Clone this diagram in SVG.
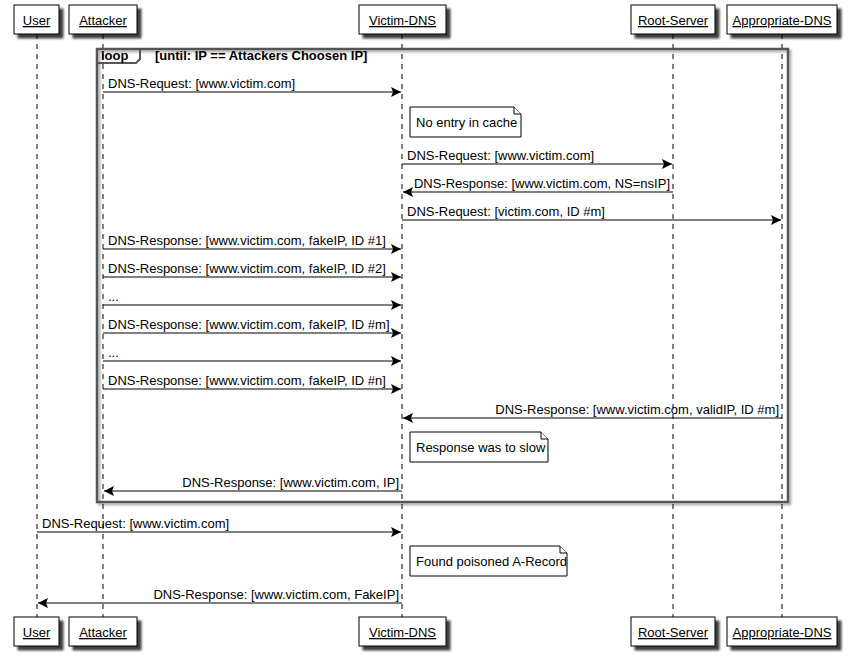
<svg xmlns="http://www.w3.org/2000/svg" width="855" height="658" viewBox="0 0 855 658">
  <style>
    text { font-family: "Liberation Sans", Arial, sans-serif; font-size: 13px; fill: #000; }
    .pname { text-decoration: underline; text-anchor: middle; }
    .bold { font-weight: bold; }
    .end { text-anchor: end; }
    .box { fill: #fff; stroke: #000; stroke-width: 1; filter: url(#shadow); }
    .life { stroke: #000; stroke-width: 1; stroke-dasharray: 5,5; fill: none; }
    .msg { stroke: #000; stroke-width: 1; fill: none; marker-end: url(#arrow); }
    .note { fill: #fff; stroke: #000; stroke-width: 1; }
    .frame { fill: none; stroke: #555; stroke-width: 2.5; filter: url(#fshadow); }
  </style>
  <defs>
    <filter id="shadow" x="-20%" y="-20%" width="150%" height="160%">
      <feDropShadow dx="4" dy="4" stdDeviation="1.2" flood-color="#000" flood-opacity="0.75"/>
    </filter>
    <filter id="fshadow" x="-5%" y="-5%" width="110%" height="110%">
      <feDropShadow dx="2" dy="2" stdDeviation="1" flood-color="#000" flood-opacity="0.35"/>
    </filter>
    <marker id="arrow" markerUnits="userSpaceOnUse" markerWidth="11" markerHeight="11" refX="10" refY="5" orient="auto">
      <path d="M0,0 L10,5 L0,10 L2,5 Z" fill="#000"/>
    </marker>
  </defs>

  <!-- lifelines -->
  <g id="lifelines">
    <line class="life" x1="37" y1="34" x2="37" y2="617"/>
    <line class="life" x1="103" y1="34" x2="103" y2="617"/>
    <line class="life" x1="402" y1="34" x2="402" y2="617"/>
    <line class="life" x1="673" y1="34" x2="673" y2="617"/>
    <line class="life" x1="782" y1="34" x2="782" y2="617"/>
  </g>

  <!-- participants (head and foot) -->
  <g id="user">
    <rect class="box" x="14" y="5" width="45" height="29"/>
    <text class="pname" x="36.5" y="25">User</text>
    <rect class="box" x="14" y="617" width="45" height="29"/>
    <text class="pname" x="36.5" y="637">User</text>
  </g>
  <g id="attacker">
    <rect class="box" x="69" y="5" width="68" height="29"/>
    <text class="pname" x="103" y="25">Attacker</text>
    <rect class="box" x="69" y="617" width="68" height="29"/>
    <text class="pname" x="103" y="637">Attacker</text>
  </g>
  <g id="victim-dns">
    <rect class="box" x="359" y="5" width="87" height="29"/>
    <text class="pname" x="402.5" y="25">Victim-DNS</text>
    <rect class="box" x="359" y="617" width="87" height="29"/>
    <text class="pname" x="402.5" y="637">Victim-DNS</text>
  </g>
  <g id="root-server">
    <rect class="box" x="631" y="5" width="84" height="29"/>
    <text class="pname" x="673" y="25">Root-Server</text>
    <rect class="box" x="631" y="617" width="84" height="29"/>
    <text class="pname" x="673" y="637">Root-Server</text>
  </g>
  <g id="appropriate-dns">
    <rect class="box" x="727" y="5" width="110" height="29"/>
    <text class="pname" x="782" y="25">Appropriate-DNS</text>
    <rect class="box" x="727" y="617" width="110" height="29"/>
    <text class="pname" x="782" y="637">Appropriate-DNS</text>
  </g>

  <!-- loop fragment -->
  <g id="loop">
    <rect class="frame" x="97" y="49" width="691" height="453"/>
    <path d="M97,63 L136,63 L140,59 L140,49" fill="none" stroke="#555" stroke-width="2"/>
    <text class="bold" x="101" y="60">loop</text>
    <text class="bold" x="155" y="60">[until: IP == Attackers Choosen IP]</text>
  </g>

  <!-- notes -->
  <g id="note-cache">
    <path class="note" d="M410,107 L514,107 L521,114 L521,137 L410,137 Z"/>
    <path class="note" d="M514,107 L514,114 L521,114"/>
    <text x="416" y="126.5">No entry in cache</text>
  </g>
  <g id="note-slow">
    <path class="note" d="M410,432 L541,432 L548,439 L548,462 L410,462 Z"/>
    <path class="note" d="M541,432 L541,439 L548,439"/>
    <text x="416" y="451.5">Response was to slow</text>
  </g>
  <g id="note-poisoned">
    <path class="note" d="M410,546 L560,546 L567,553 L567,576 L410,576 Z"/>
    <path class="note" d="M560,546 L560,553 L567,553"/>
    <text x="416" y="565.5">Found poisoned A-Record</text>
  </g>

  <!-- messages -->
  <g id="connectors">
    <line class="msg" x1="103" y1="92" x2="401" y2="92"/>
    <text x="108" y="88">DNS-Request: [www.victim.com]</text>

    <line class="msg" x1="402" y1="164" x2="672" y2="164"/>
    <text x="407" y="160">DNS-Request: [www.victim.com]</text>

    <line class="msg" x1="673" y1="192" x2="403" y2="192"/>
    <text class="end" x="670" y="188">DNS-Response: [www.victim.com, NS=nsIP]</text>

    <line class="msg" x1="402" y1="220" x2="781" y2="220"/>
    <text x="407" y="216">DNS-Request: [victim.com, ID #m]</text>

    <line class="msg" x1="103" y1="249" x2="401" y2="249"/>
    <text x="108" y="245">DNS-Response: [www.victim.com, fakeIP, ID #1]</text>

    <line class="msg" x1="103" y1="277" x2="401" y2="277"/>
    <text x="108" y="273">DNS-Response: [www.victim.com, fakeIP, ID #2]</text>

    <line class="msg" x1="103" y1="305" x2="401" y2="305"/>
    <text x="108" y="301">...</text>

    <line class="msg" x1="103" y1="333" x2="401" y2="333"/>
    <text x="108" y="329">DNS-Response: [www.victim.com, fakeIP, ID #m]</text>

    <line class="msg" x1="103" y1="361" x2="401" y2="361"/>
    <text x="108" y="357">...</text>

    <line class="msg" x1="103" y1="389" x2="401" y2="389"/>
    <text x="108" y="385">DNS-Response: [www.victim.com, fakeIP, ID #n]</text>

    <line class="msg" x1="782" y1="418" x2="403" y2="418"/>
    <text class="end" x="779" y="414">DNS-Response: [www.victim.com, validIP, ID #m]</text>

    <line class="msg" x1="402" y1="491" x2="104" y2="491"/>
    <text class="end" x="399" y="487">DNS-Response: [www.victim.com, IP]</text>

    <line class="msg" x1="37" y1="532" x2="401" y2="532"/>
    <text x="42" y="528">DNS-Request: [www.victim.com]</text>

    <line class="msg" x1="402" y1="603" x2="38" y2="603"/>
    <text class="end" x="399" y="599">DNS-Response: [www.victim.com, FakeIP]</text>
  </g>
</svg>
